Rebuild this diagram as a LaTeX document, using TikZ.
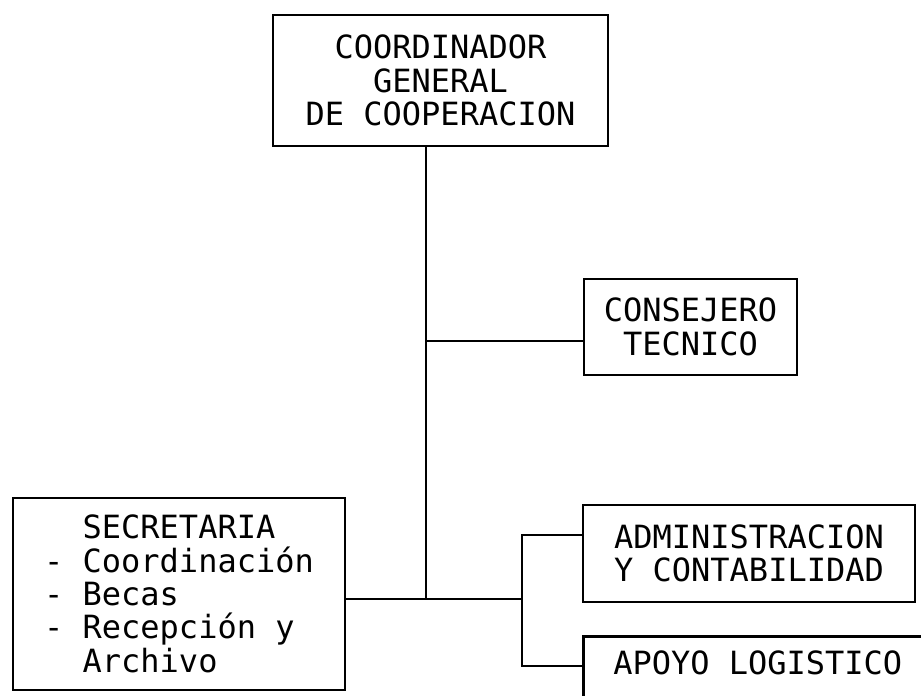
\documentclass[tikz,border=0pt]{standalone}
\usepackage{fontspec}
\newfontfamily\orgfont{DejaVu Sans Mono}
\usetikzlibrary{positioning}
\tikzstyle{orgchart}=[x=0.75pt, y=-0.75pt, line width=1.9pt,
  font=\orgfont\fontsize{24}{25}\selectfont]
\tikzstyle{unit}=[draw, rectangle, align=center, inner sep=0pt]

\begin{document}
\begin{tikzpicture}[orgchart]
          \useasboundingbox (0,0) rectangle (921,696);

          \node[unit, minimum width=251.25pt, minimum height=98.25pt]
                (coord) at (440.5,80.5) {COORDINADOR\\GENERAL\\DE COOPERACION};
          \node[unit, minimum width=159.75pt, minimum height=72pt]
                (cons)  at (690.5,327)  {CONSEJERO\\TECNICO};
          \node[unit, align=left, minimum width=249pt, minimum height=144pt]
                (secr)  at (179,594)    {\phantom{- }SECRETARIA\\- Coordinación\\- Becas\\- Recepción y\\\phantom{- }Archivo};
          \node[unit, minimum width=249pt, minimum height=72.75pt]
                (admin) at (749,553.5)  {ADMINISTRACION\\Y CONTABILIDAD};
          \node[unit, anchor=north west, minimum width=261.75pt,
                text height=28.5pt, text depth=42.75pt]
                (apoyo) at (582,635)    {APOYO LOGISTICO};

          \coordinate (tc) at (426,341);
          \coordinate (j)  at (426,599);
          \coordinate (bt) at (522,535);
          \coordinate (bb) at (522,666);

          \draw (coord.south -| j) -- (j);
          \draw (tc) -- (cons.west |- tc);
          \draw (secr.east |- j) -- (j) -- (bb |- j);
          \draw (admin.west |- bt) -- (bt) -- (bb) -- (apoyo.west |- bb);
        \end{tikzpicture}
\end{document}
